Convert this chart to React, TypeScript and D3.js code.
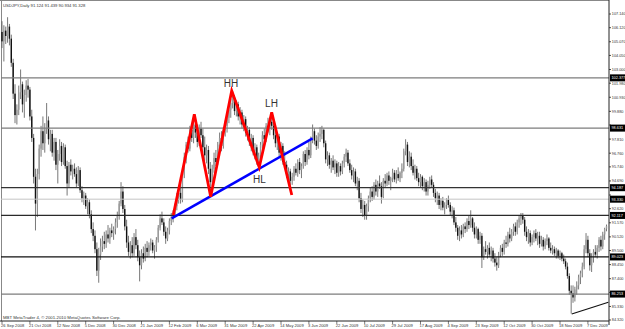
import React from "react";
import * as d3 from "d3";

const TITLE = "USDJPY,Daily  91.124 91.439 90.934 91.328";
const COPYRIGHT = "MBT MetaTrader 4, \u00a9 2001-2010 MetaQuotes Software Corp.";

const opens = [
  105.8,105.1,105.9,105.5,106.2,105.3,103.5,101.2,99.6,100.0,
  101.3,101.9,100.4,101.1,101.8,101.5,99.5,97.9,95.0,93.0,
  95.2,97.1,98.4,97.5,98.6,99.2,97.8,98.2,96.8,97.6,
  95.9,96.7,97.3,96.1,97.2,95.8,94.5,95.9,95.4,95.6,
  95.2,94.5,95.5,94.0,93.4,93.6,92.8,93.1,92.2,91.1,
  90.6,89.6,88.0,89.2,89.8,90.2,90.0,90.7,90.4,91.0,
  90.8,91.1,91.6,92.1,93.0,93.9,92.6,91.3,90.1,89.4,
  89.9,89.3,90.5,89.9,89.0,88.4,89.3,88.9,89.7,89.4,
  89.9,90.1,89.5,89.8,90.3,91.2,91.9,91.6,90.9,90.4,
  91.0,91.7,92.0,92.2,92.8,93.5,93.8,93.3,95.1,96.5,
  97.4,97.1,98.5,97.9,98.9,98.3,97.6,98.6,98.1,97.2,
  96.6,97.0,95.6,94.6,95.6,96.4,96.1,97.4,97.9,97.3,
  98.5,98.8,99.4,100.0,100.5,100.9,99.9,100.4,99.5,99.8,
  98.9,99.3,98.3,98.5,97.6,97.9,96.9,97.2,96.2,96.6,
  97.4,98.1,97.8,98.8,98.6,99.1,98.8,98.1,97.5,98.0,
  96.8,97.3,96.1,95.9,95.2,95.4,94.7,95.0,95.6,95.3,
  96.1,95.5,95.8,96.7,96.1,97.0,96.6,97.8,98.4,97.7,
  97.3,98.0,98.2,98.5,97.5,96.3,96.6,95.9,96.2,95.7,
  96.0,95.3,95.8,95.4,96.0,96.5,96.8,96.0,95.5,95.1,
  95.4,94.5,94.7,93.4,92.6,92.9,92.1,92.8,93.4,93.9,
  93.5,94.4,93.9,94.5,94.3,93.5,94.7,94.5,95.1,94.7,
  94.9,95.3,94.8,95.2,94.9,95.3,95.6,96.9,97.4,96.1,
  96.5,95.8,95.3,95.6,94.9,94.6,95.0,94.3,94.6,93.9,
  94.4,94.8,94.4,93.8,93.4,93.6,92.9,93.2,92.7,92.9,
  93.3,92.9,92.4,92.5,91.6,91.2,90.6,91.0,90.7,91.3,
  91.1,91.7,91.4,91.9,91.2,90.7,91.1,90.3,90.6,89.0,
  89.6,89.4,89.7,89.2,89.5,88.9,88.6,88.4,89.2,89.7,
  89.4,90.1,90.0,90.7,90.4,90.9,91.3,90.9,91.6,91.9,
  92.1,91.8,90.9,90.5,90.8,90.1,90.5,90.8,90.4,90.6,
  90.0,90.3,89.8,90.2,90.4,89.7,89.5,89.6,89.3,89.5,
  89.1,89.3,88.9,88.7,88.3,87.6,86.5,86.3,86.0,86.6,
  86.9,87.5,87.8,88.3,89.6,90.3,89.3,88.4,89.0,89.4,
  89.2,89.7,90.3,89.8,90.7,91.124,
];

const highs = [
  106.6,106.3,106.2,106.9,106.4,105.6,103.8,101.9,100.4,101.8,
  103.0,102.1,101.5,102.2,102.3,101.7,100.0,98.2,95.6,95.6,
  97.4,98.8,99.5,99.0,100.5,99.5,98.5,98.5,97.9,97.9,
  97.0,97.8,97.6,97.5,97.4,96.2,96.1,96.3,95.9,96.0,
  95.7,95.8,95.7,94.3,93.9,93.8,93.4,93.3,92.5,91.6,
  91.0,90.1,89.7,90.4,90.6,90.9,91.0,91.4,91.2,91.5,
  91.3,91.9,92.4,93.2,94.6,94.3,92.9,91.8,90.6,90.2,
  90.5,90.8,91.1,90.3,89.5,89.6,89.8,90.0,90.2,90.1,
  90.4,90.3,89.9,90.5,91.4,92.2,92.4,91.9,91.3,91.2,
  91.9,92.3,92.5,93.0,93.8,94.1,94.4,95.4,96.8,97.6,
  98.0,98.8,99.0,99.5,99.3,98.9,98.9,99.1,98.6,98.0,
  97.4,97.3,96.1,95.9,96.8,97.0,97.6,98.3,98.4,98.7,
  99.2,99.6,100.3,100.8,101.4,101.1,100.7,100.6,100.2,100.0,
  99.6,99.5,98.8,98.7,98.2,98.1,97.5,97.4,96.8,97.6,
  98.4,98.6,99.0,99.4,99.3,99.7,99.0,98.6,98.3,98.2,
  97.6,97.5,96.9,96.2,95.7,95.6,95.3,95.8,96.0,96.3,
  96.4,96.0,96.9,97.0,97.2,97.6,98.0,98.9,98.6,98.1,
  98.3,98.7,98.8,98.6,97.7,96.9,96.8,96.4,96.6,96.3,
  96.2,96.1,96.0,96.2,96.7,97.1,97.0,96.3,95.9,95.7,
  95.6,95.0,94.9,93.8,93.3,93.2,93.0,93.6,94.2,94.3,
  94.6,94.8,94.7,95.1,94.6,94.9,95.2,95.3,95.4,95.0,
  95.6,95.5,95.5,95.7,95.4,96.0,97.1,97.8,97.6,96.9,
  96.8,96.3,95.9,95.8,95.3,95.2,95.1,94.9,94.8,94.7,
  95.0,95.1,94.6,94.1,93.9,93.8,93.4,93.5,93.1,93.4,
  93.6,93.1,92.8,92.7,92.0,91.4,91.3,91.4,91.5,91.6,
  91.9,92.1,92.5,92.0,91.6,91.3,91.2,90.9,90.8,89.8,
  90.2,89.9,90.1,89.8,89.7,89.3,89.0,89.4,89.9,90.0,
  90.3,90.6,90.9,91.2,91.1,91.5,91.6,91.8,92.1,92.3,
  92.3,92.0,91.3,91.1,91.0,90.7,91.0,91.1,90.9,90.9,
  90.6,90.5,90.4,90.7,90.5,90.1,89.9,89.8,89.7,89.6,
  89.5,89.4,89.2,88.9,88.6,87.8,86.9,86.9,86.8,87.2,
  87.7,88.0,88.6,89.9,90.8,90.6,89.6,89.3,89.6,89.9,
  89.9,90.5,90.6,90.9,91.2,91.439,
];

const lows = [
  104.6,103.6,104.9,105.0,104.8,103.2,100.8,99.0,98.9,99.6,
  100.8,99.8,99.4,100.6,100.9,99.2,97.6,94.5,91.0,92.0,
  94.8,96.5,97.0,96.8,98.2,97.4,96.9,96.5,96.2,95.5,
  94.5,96.2,95.8,95.9,95.6,93.6,94.2,95.1,94.8,95.0,
  94.2,94.3,93.8,93.1,92.9,92.6,92.2,91.9,90.8,90.2,
  89.3,87.6,87.1,88.8,89.4,89.6,89.7,90.1,90.0,90.5,
  90.3,90.7,91.2,91.8,92.8,92.3,91.0,89.7,89.1,88.9,
  89.0,89.1,89.6,88.7,87.2,88.1,88.6,88.7,89.0,89.1,
  89.5,89.3,88.9,89.4,90.1,91.0,91.4,90.6,90.0,90.2,
  90.7,91.4,91.6,92.0,92.5,93.0,93.0,93.1,94.9,96.0,
  96.8,96.9,97.6,97.5,97.9,97.2,97.3,97.9,96.8,96.2,
  96.0,95.2,93.6,94.3,95.3,95.8,95.9,97.0,96.9,97.1,
  98.0,98.3,99.0,99.4,100.1,99.6,99.5,99.2,98.9,98.6,
  98.4,98.0,97.7,97.3,96.9,96.6,96.3,95.9,95.8,96.3,
  97.1,97.4,97.6,98.3,98.1,98.5,97.8,97.2,97.0,96.5,
  96.2,95.9,95.6,94.9,94.6,94.3,94.4,94.7,95.1,95.0,
  95.2,94.9,95.6,95.8,95.9,96.3,96.4,97.5,97.4,97.0,
  97.1,97.6,97.8,97.2,96.0,95.8,95.6,95.3,95.5,95.2,
  95.0,95.0,95.1,95.2,95.7,96.1,95.8,95.3,94.8,94.6,
  94.3,94.0,93.1,92.3,92.0,91.8,91.8,92.4,93.1,93.2,
  93.3,93.6,93.5,94.1,93.0,93.4,94.2,94.3,94.4,94.0,
  94.6,94.6,94.5,94.7,94.6,94.9,95.4,96.6,95.8,95.7,
  95.5,95.1,94.8,94.7,94.3,94.2,94.0,93.9,93.6,93.6,
  94.1,94.2,93.5,93.1,92.9,92.6,92.5,92.5,92.2,92.6,
  92.7,92.1,91.9,91.4,90.9,90.3,90.2,90.4,90.5,90.8,
  90.9,91.1,91.2,90.9,90.4,90.4,90.0,90.0,88.2,88.8,
  89.2,88.9,89.0,88.7,88.6,88.3,88.0,88.2,89.0,89.1,
  89.2,89.7,89.8,90.1,90.2,90.6,90.6,90.7,91.2,91.4,
  91.5,90.6,90.2,90.0,89.8,89.9,90.1,90.2,89.9,89.7,
  89.8,89.5,89.6,89.9,89.5,89.3,89.2,89.1,88.9,88.9,
  88.8,88.7,88.5,88.1,87.4,86.2,84.8,85.6,85.7,86.2,
  86.6,87.0,87.5,88.1,89.3,89.0,88.0,87.9,88.6,89.0,
  88.9,89.4,89.5,89.6,90.3,90.934,
];

const closes = [
  105.1,105.9,105.5,106.2,105.3,103.5,101.2,99.6,100.0,101.3,
  101.9,100.4,101.1,101.8,101.5,99.5,97.9,95.0,93.0,95.2,
  97.1,98.4,97.5,98.6,99.2,97.8,98.2,96.8,97.6,95.9,
  96.7,97.3,96.1,97.2,95.8,94.5,95.9,95.4,95.6,95.2,
  94.5,95.5,94.0,93.4,93.6,92.8,93.1,92.2,91.1,90.6,
  89.6,88.0,89.2,89.8,90.2,90.0,90.7,90.4,91.0,90.8,
  91.1,91.6,92.1,93.0,93.9,92.6,91.3,90.1,89.4,89.9,
  89.3,90.5,89.9,89.0,88.4,89.3,88.9,89.7,89.4,89.9,
  90.1,89.5,89.8,90.3,91.2,91.9,91.6,90.9,90.4,91.0,
  91.7,92.0,92.2,92.8,93.5,93.8,93.3,95.1,96.5,97.4,
  97.1,98.5,97.9,98.9,98.3,97.6,98.6,98.1,97.2,96.6,
  97.0,95.6,94.6,95.6,96.4,96.1,97.4,97.9,97.3,98.5,
  98.8,99.4,100.0,100.5,100.9,99.9,100.4,99.5,99.8,98.9,
  99.3,98.3,98.5,97.6,97.9,96.9,97.2,96.2,96.6,97.4,
  98.1,97.8,98.8,98.6,99.1,98.8,98.1,97.5,98.0,96.8,
  97.3,96.1,95.9,95.2,95.4,94.7,95.0,95.6,95.3,96.1,
  95.5,95.8,96.7,96.1,97.0,96.6,97.8,98.4,97.7,97.3,
  98.0,98.2,98.5,97.5,96.3,96.6,95.9,96.2,95.7,96.0,
  95.3,95.8,95.4,96.0,96.5,96.8,96.0,95.5,95.1,95.4,
  94.5,94.7,93.4,92.6,92.9,92.1,92.8,93.4,93.9,93.5,
  94.4,93.9,94.5,94.3,93.5,94.7,94.5,95.1,94.7,94.9,
  95.3,94.8,95.2,94.9,95.3,95.6,96.9,97.4,96.1,96.5,
  95.8,95.3,95.6,94.9,94.6,95.0,94.3,94.6,93.9,94.4,
  94.8,94.4,93.8,93.4,93.6,92.9,93.2,92.7,92.9,93.3,
  92.9,92.4,92.5,91.6,91.2,90.6,91.0,90.7,91.3,91.1,
  91.7,91.4,91.9,91.2,90.7,91.1,90.3,90.6,89.0,89.6,
  89.4,89.7,89.2,89.5,88.9,88.6,88.4,89.2,89.7,89.4,
  90.1,90.0,90.7,90.4,90.9,91.3,90.9,91.6,91.9,92.1,
  91.8,90.9,90.5,90.8,90.1,90.5,90.8,90.4,90.6,90.0,
  90.3,89.8,90.2,90.4,89.7,89.5,89.6,89.3,89.5,89.1,
  89.3,88.9,88.7,88.3,87.6,86.5,86.3,86.0,86.6,86.9,
  87.5,87.8,88.3,89.6,90.3,89.3,88.4,89.0,89.4,89.2,
  89.7,90.3,89.8,90.7,91.1,91.328,
];

const dateLabels = [
  "26 Sep 2008", "21 Oct 2008", "12 Nov 2008", "5 Dec 2008", "30 Dec 2008",
  "21 Jan 2009", "12 Feb 2009", "6 Mar 2009", "31 Mar 2009", "22 Apr 2009",
  "14 May 2009", "3 Jun 2009", "22 Jun 2009", "10 Jul 2009", "29 Jul 2009",
  "17 Aug 2009", "4 Sep 2009", "23 Sep 2009", "12 Oct 2009", "30 Oct 2009",
  "18 Nov 2009", "7 Dec 2009",
];
const BARS_PER_DATE_LABEL = 15;

const priceTicks = [
  107.14, 106.12, 105.07, 104.05, 103.0, 101.98, 100.93, 99.88, 98.86, 97.81,
  96.76, 95.74, 94.69, 93.64, 92.62, 91.57, 90.52, 89.5, 88.45, 87.4, 86.38,
  85.33, 84.32,
];

const levelPrices = [102.377, 98.631, 94.187, 93.33, 92.117, 89.023, 86.253];
const levelColors = ["#7c7c7c", "#7c7c7c", "#333333", "#c4c4c4", "#2a2a2a", "#111111", "#7c7c7c"];

// trend annotations: [bar index, price]
const zigzagPoints = [
  [92.1, 92.15], [103.4, 99.66], [112.2, 93.51], [123.5, 101.42],
  [138.3, 95.71], [145, 99.81], [155.8, 93.64],
];
const blueTrend = [[91.2, 91.9], [167, 97.87]];
const blackTrend = [[306.3, 84.77], [326, 85.64]];
const patternLabels = [
  { text: "HH", bar: 123.1, price: 101.7 },
  { text: "LH", bar: 144.9, price: 100.2 },
  { text: "HL", bar: 138.4, price: 94.54 },
];

const W = 625;
const H = 329;
const AXIS_X = 609;
const AXIS_Y = 321;
const FONT = "'Liberation Sans', Arial, sans-serif";

export default function App() {
  const n = closes.length;
  const x = d3.scaleLinear().domain([0, n - 1]).range([2, 606.5]);
  const y = d3.scaleLinear().domain([84.32, 107.14]).range([320, 14]);
  const fmt = d3.format(".3f");
  const line = d3
    .line<number[]>()
    .x((d) => x(d[0]))
    .y((d) => y(d[1]));

  const bodyW = 1.4;
  // labels of price ticks hidden under a level's price box (as in the reference)
  const hidden = (p: number) => levelPrices.some((lp) => Math.abs(y(lp) - y(p)) < 5);

  return (
    <svg
      width={W}
      height={H}
      style={{ position: "absolute", left: 0, top: 0, background: "#fff" }}
      fontFamily={FONT}
    >
      <rect x={0} y={0} width={W} height={H} fill="#fff" />
      {/* frame */}
      <line x1={0} y1={0.5} x2={AXIS_X} y2={0.5} stroke="#888" strokeWidth={1} />
      <line x1={1.5} y1={0} x2={1.5} y2={AXIS_Y} stroke="#888" strokeWidth={1} />

      {/* candles */}
      <g>
        {closes.map((c, i) => {
          const o = opens[i];
          const hi = highs[i];
          const lo = lows[i];
          const cx = x(i);
          const top = y(Math.max(o, c));
          const bot = y(Math.min(o, c));
          const bull = c >= o;
          return (
            <g key={i}>
              <line x1={cx} x2={cx} y1={y(hi)} y2={y(lo)} stroke="#555" strokeWidth={0.8} />
              <rect
                x={cx - bodyW / 2}
                y={top}
                width={bodyW}
                height={Math.max(0.8, bot - top)}
                fill={bull ? "#9a9a9a" : "#111"}
              />
            </g>
          );
        })}
      </g>

      {/* horizontal levels */}
      {levelPrices.map((p, i) => (
        <line
          key={i}
          x1={1}
          x2={AXIS_X}
          y1={y(p)}
          y2={y(p)}
          stroke={levelColors[i]}
          strokeWidth={i === 3 ? 1 : 1.3}
        />
      ))}

      {/* trend annotations */}
      <path d={line(blueTrend) || ""} fill="none" stroke="#0000ff" strokeWidth={2.5} />
      <path
        d={line(zigzagPoints) || ""}
        fill="none"
        stroke="#ff0000"
        strokeWidth={2.8}
        strokeLinejoin="miter"
      />
      <path d={line(blackTrend) || ""} fill="none" stroke="#111" strokeWidth={1.2} />
      {patternLabels.map((l) => (
        <text
          key={l.text}
          x={x(l.bar)}
          y={y(l.price)}
          textAnchor="middle"
          fontSize={10}
          fill="#333"
        >
          {l.text}
        </text>
      ))}

      {/* title & copyright */}
      <text x={3} y={6.5} fontSize={4.2} fill="#333">
        {TITLE}
      </text>
      <text x={3} y={318.5} fontSize={4.3} fill="#333">
        {COPYRIGHT}
      </text>

      {/* right axis */}
      <line x1={AXIS_X} x2={AXIS_X} y1={0} y2={AXIS_Y + 4} stroke="#222" strokeWidth={1} />
      {priceTicks.map((p) => (
        <g key={p}>
          <line x1={AXIS_X} x2={AXIS_X + 2} y1={y(p)} y2={y(p)} stroke="#222" strokeWidth={0.8} />
          {!hidden(p) && (
            <text x={AXIS_X + 2.8} y={y(p) + 1.4} fontSize={3.8} fill="#333">
              {fmt(p)}
            </text>
          )}
        </g>
      ))}
      {levelPrices.map((p, i) => (
        <g key={"b" + i}>
          <rect x={AXIS_X + 1} y={y(p) - 3.5} width={W - AXIS_X - 1} height={7} fill="#000" />
          <text x={AXIS_X + 2.5} y={y(p) + 1.4} fontSize={3.8} fill="#fff">
            {fmt(p)}
          </text>
        </g>
      ))}

      {/* bottom axis */}
      <line x1={0} x2={AXIS_X} y1={AXIS_Y} y2={AXIS_Y} stroke="#222" strokeWidth={1} />
      {dateLabels.map((d, k) => {
        const xi = x(k * BARS_PER_DATE_LABEL);
        return (
          <g key={d}>
            <line x1={xi} x2={xi} y1={AXIS_Y} y2={AXIS_Y + 3} stroke="#222" strokeWidth={0.6} />
            <text x={xi - 1} y={326.5} fontSize={4.1} fill="#333">
              {d}
            </text>
          </g>
        );
      })}
    </svg>
  );
}
